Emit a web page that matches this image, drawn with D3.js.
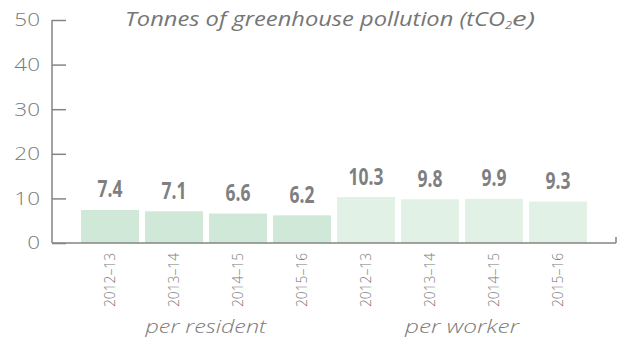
<!DOCTYPE html>
<html>
<head>
<meta charset="utf-8">
<script src="https://cdn.jsdelivr.net/npm/d3@7/dist/d3.min.js"></script>
<style>
  html, body { margin: 0; padding: 0; background: #fff; }
  svg { display: block; }
</style>
</head>
<body>
<svg id="chart" width="617" height="342"></svg>
<script>
// Emissions per resident and per worker, by financial year
const groups = ["per resident", "per worker"];
const years = ["2012–13", "2013–14", "2014–15", "2015–16"];
const perResident = [7.4, 7.1, 6.6, 6.2];
const perWorker = [10.3, 9.8, 9.9, 9.3];
const yTicks = [0, 10, 20, 30, 40, 50];
const groupColors = ["#cfe8d7", "#e1f1e6"];

const rows = [];
[perResident, perWorker].forEach((vals, gi) => {
  vals.forEach((v, i) => rows.push({ key: gi + "|" + years[i], group: gi, year: years[i], value: v }));
});

const svg = d3.select("#chart");
const grey = "#858585";
const textGrey = "#7a7a7a";
const font = "'Open Sans', sans-serif";

const x = d3.scaleBand()
  .domain(rows.map(d => d.key))
  .range([78, 590])
  .paddingInner(6 / 64)
  .paddingOuter(3 / 64);

const y = d3.scaleLinear().domain([0, 50]).range([243, 20]);

// Bars
svg.append("g").selectAll("rect")
  .data(rows)
  .join("rect")
  .attr("x", d => x(d.key))
  .attr("y", d => y(d.value))
  .attr("width", x.bandwidth())
  .attr("height", d => y(0) - y(d.value))
  .attr("fill", d => groupColors[d.group]);

// Value labels (bold, condensed horizontally)
svg.append("g").selectAll("text")
  .data(rows)
  .join("text")
  .attr("transform", d => `translate(${x(d.key) + x.bandwidth() / 2},${y(d.value) - 12.5}) scale(0.76,1)`)
  .attr("text-anchor", "middle")
  .attr("font-family", font)
  .attr("font-weight", 700)
  .attr("font-size", 23)
  .attr("fill", "#7f7f81")
  .text(d => d.value.toFixed(1));

// Y axis: ticks point inward into the plot
const yAxis = d3.axisRight(y).tickValues(yTicks).tickSize(14).tickFormat("");
const ya = svg.append("g").attr("transform", "translate(52,0)").call(yAxis);
ya.select(".domain").remove();
ya.selectAll(".tick line").attr("stroke", grey).attr("stroke-width", 1.5);
ya.append("line").attr("x1", 0).attr("x2", 0).attr("y1", y(50)).attr("y2", y(0))
  .attr("stroke", grey).attr("stroke-width", 1.5);

svg.append("g").selectAll("text")
  .data(yTicks)
  .join("text")
  .attr("transform", d => `translate(40,${y(d)}) scale(1.25,1)`)
  .attr("dy", "0.36em")
  .attr("text-anchor", "end")
  .attr("font-family", font)
  .attr("font-weight", 300)
  .attr("font-size", 18)
  .attr("fill", textGrey)
  .text(d => d);

// X baseline with end tick
const xa = svg.append("g");
xa.append("line").attr("x1", 52).attr("x2", 616).attr("y1", y(0)).attr("y2", y(0))
  .attr("stroke", grey).attr("stroke-width", 1.5);
xa.append("line").attr("x1", 616).attr("x2", 616).attr("y1", y(0) - 6).attr("y2", y(0))
  .attr("stroke", grey).attr("stroke-width", 1.5);

// Rotated year labels
svg.append("g").selectAll("text")
  .data(rows)
  .join("text")
  .attr("transform", d => `translate(${x(d.key) + x.bandwidth() / 2 + 5},253) rotate(-90)`)
  .attr("text-anchor", "end")
  .attr("font-family", font)
  .attr("font-weight", 300)
  .attr("font-size", 14)
  .attr("textLength", 54)
  .attr("lengthAdjust", "spacingAndGlyphs")
  .attr("fill", textGrey)
  .text(d => d.year);

// Group labels, centred under each group of bars
svg.append("g").selectAll("text")
  .data(groups)
  .join("text")
  .attr("x", (d, gi) => {
    const keys = rows.filter(r => r.group === gi).map(r => r.key);
    return (x(keys[0]) + x(keys[keys.length - 1]) + x.bandwidth()) / 2;
  })
  .attr("y", 333)
  .attr("text-anchor", "middle")
  .attr("font-family", font)
  .attr("font-style", "italic")
  .attr("font-weight", 300)
  .attr("font-size", 19)
  .attr("textLength", (d, gi) => gi === 0 ? 121 : 114)
  .attr("lengthAdjust", "spacingAndGlyphs")
  .attr("fill", textGrey)
  .text(d => d);

// Title with subscript 2 in tCO2e
const title = svg.append("text")
  .attr("x", 125)
  .attr("y", 25.5)
  .attr("font-family", font)
  .attr("font-style", "italic")
  .attr("font-size", 19.5)
  .attr("fill", "#767676");
title.append("tspan").attr("textLength", 380).attr("lengthAdjust", "spacingAndGlyphs")
  .text("Tonnes of greenhouse pollution (tCO");
title.append("tspan").attr("font-size", 11).attr("dy", 3).attr("textLength", 7)
  .attr("lengthAdjust", "spacingAndGlyphs").text("2");
title.append("tspan").attr("dy", -3).attr("textLength", 23)
  .attr("lengthAdjust", "spacingAndGlyphs").text("e)");
</script>
</body>
</html>
